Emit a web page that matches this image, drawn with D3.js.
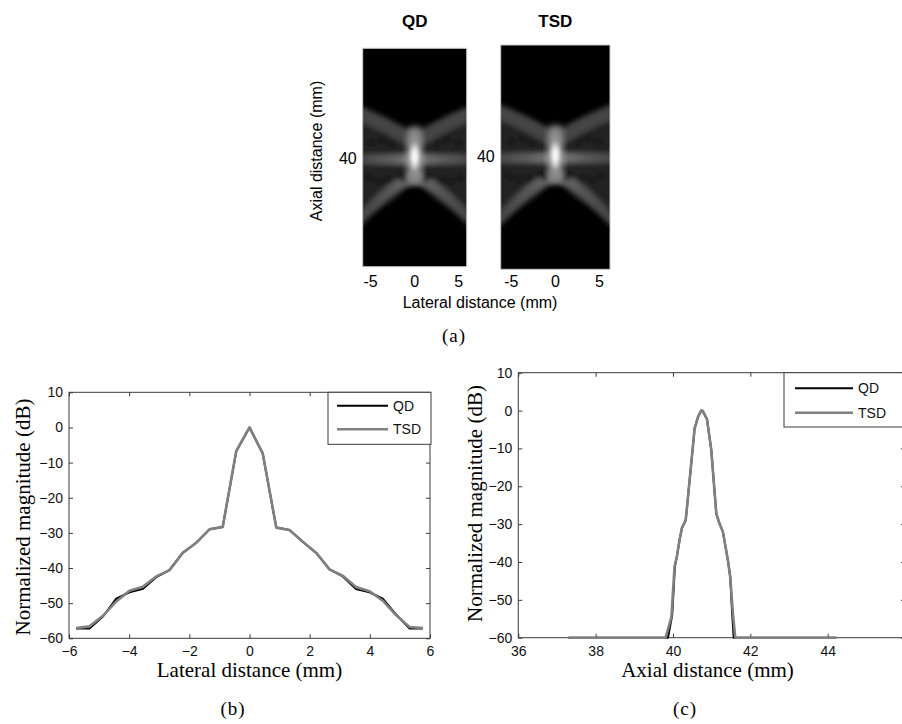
<!DOCTYPE html>
<html>
<head>
<meta charset="utf-8">
<script src="https://cdn.jsdelivr.net/npm/d3@7"></script>
<style>
  html, body { margin: 0; padding: 0; background: #fff; }
  svg { display: block; }
</style>
</head>
<body>
<svg id="fig" width="902" height="724"></svg>
<script>
// ---------------- data ----------------
// (a) point-spread images
const imageTitles = ["QD", "TSD"];
const imageLateralTicks = [-5, 0, 5];
const imageAxialTicks = [40];
const imageLateralExtent = [[-5.9, 5.9], [-6.2, 6.2]];   // mm
const imageAxialExtent = [[28, 52], [27.8, 52.4]];       // mm

// PSF structure (lateral mm, axial mm) and grey levels (0-255)
const psfUpperEnvelope = [[-6.6, 34.2], [-4, 35.3], [-2, 36.3], [-0.9, 36.9], [0, 37.0], [0.9, 36.9], [2, 36.3], [4, 35.3], [6.6, 34.2]];
const psfLowerEnvelope = [[-6.6, 47.8], [-4.5, 45.7], [-3, 44.4], [-1.5, 43.4], [0, 43.0], [1.5, 43.4], [3, 44.4], [4.5, 45.7], [6.6, 47.8]];
const psfSidelobeAxial = 40.2;
const psfColumn = { lateral: [-0.85, 0.85], axial: [36.6, 42.9] };
const psfCore = { lateral: 0, axial: 39.9, rLat: 0.6, rAx: 1.5 };
const psfNulls = [[-4.9, 38.4], [-3.7, 38.1], [-2.6, 38.5], [-5.2, 42.2], [-4.1, 42.6], [-3.0, 42.4], [-1.7, 42.1], [-1.1, 42.4],
                  [4.9, 38.4], [3.7, 38.1], [2.6, 38.5], [5.2, 42.2], [4.1, 42.6], [3.0, 42.4], [1.7, 42.1], [1.1, 42.4]];
const psfGrey = { region: 34, upperArm: 68, lowerArmEdge: 68, lowerArmCentre: 112, bandEdge: 72, bandCentre: 125, column: 145, null: 12 };

// (b) lateral profile
const lateralPos = [-5.76, -5.32, -4.87, -4.43, -3.99, -3.54, -3.10, -2.66, -2.22, -1.77, -1.33, -0.89, -0.44, 0,
                    0.44, 0.89, 1.33, 1.77, 2.22, 2.66, 3.10, 3.54, 3.99, 4.43, 4.87, 5.32, 5.76];
const lateralQD  = [-57.2, -57.2, -53.8, -48.7, -46.9, -45.9, -42.6, -40.6, -35.7, -32.8, -29.0, -28.3, -6.8, 0,
                    -7.4, -28.5, -29.2, -32.5, -35.7, -40.4, -42.4, -46.0, -46.9, -48.7, -53.2, -57.2, -57.2];
const lateralTSD = [-57.1, -56.6, -53.6, -49.5, -46.5, -45.3, -42.4, -40.6, -35.7, -32.8, -29.0, -28.3, -6.7, 0,
                    -7.4, -28.5, -29.2, -32.5, -35.7, -40.4, -42.2, -45.4, -46.6, -49.3, -53.4, -56.8, -57.1];
const lateralTicks = [-6, -4, -2, 0, 2, 4, 6];

// (c) axial profile
const axialPosTSD = [37.3, 39.81, 39.96, 40.04, 40.10, 40.17, 40.23, 40.33, 40.36, 40.56, 40.65, 40.73, 40.77, 40.88,
                     40.99, 41.12, 41.20, 41.29, 41.42, 41.48, 41.55, 41.61, 44.22];
const axialTSD    = [-60, -60, -54.5, -41.2, -38.6, -34.2, -31.1, -28.9, -25.8, -4.7, -1.6, 0, -0.1, -2.3,
                     -10.4, -27.2, -29.8, -32.0, -39.5, -43.9, -53.6, -60, -60];
const axialPosQD  = [37.3, 39.87, 39.98, 40.05, 40.10, 40.17, 40.23, 40.33, 40.36, 40.56, 40.65, 40.73, 40.77, 40.88,
                     40.99, 41.12, 41.20, 41.29, 41.42, 41.48, 41.53, 41.57, 44.22];
const axialQD     = [-60, -60, -54.0, -41.2, -38.6, -34.2, -31.1, -28.9, -25.8, -4.7, -1.6, 0, -0.1, -2.3,
                     -10.4, -27.2, -29.8, -32.0, -39.5, -43.9, -53.6, -60, -60];
const axialTicks = [36, 38, 40, 42, 44];

const magnitudeTicks = [-60, -50, -40, -30, -20, -10, 0, 10];
const legendNames = ["QD", "TSD"];
const seriesColors = ["#000000", "#808080"];
const seriesWidths = [2, 2.6];

// ---------------- drawing ----------------
const svg = d3.select("#fig");
const defs = svg.append("defs");
const SANS = "'Liberation Sans', Arial, Helvetica, sans-serif";
const SERIF = "'Liberation Serif', 'Times New Roman', serif";
const grey = v => `rgb(${v},${v},${v})`;

const addBlur = (id, sd) => defs.append("filter").attr("id", id)
  .attr("x", "-30%").attr("y", "-30%").attr("width", "160%").attr("height", "160%")
  .append("feGaussianBlur").attr("stdDeviation", sd);
addBlur("soft", 2.4);
addBlur("softer", 3.0);
addBlur("core", 1.6);

// ---- (a) images ----
const panelRanges = [
  { x: [362.7, 466.7], y: [48.3, 266.7] },
  { x: [500.7, 610.0], y: [45.0, 269.3] }
];

imageTitles.forEach((title, i) => {
  const xs = d3.scaleLinear().domain(imageLateralExtent[i]).range(panelRanges[i].x);
  const ys = d3.scaleLinear().domain(imageAxialExtent[i]).range(panelRanges[i].y);
  const [x0, x1] = xs.range(), [y0, y1] = ys.range();
  const g = svg.append("g");
  const clipId = "clip-img-" + i;
  defs.append("clipPath").attr("id", clipId)
    .append("rect").attr("x", x0).attr("y", y0).attr("width", x1 - x0).attr("height", y1 - y0);

  // horizontal gradients for arms / band (bright near the centre line)
  const mkGrad = (id, edge, centre) => {
    const lg = defs.append("linearGradient").attr("id", id)
      .attr("gradientUnits", "userSpaceOnUse")
      .attr("x1", x0).attr("x2", x1).attr("y1", 0).attr("y2", 0);
    const cx = (xs(0) - x0) / (x1 - x0);
    lg.append("stop").attr("offset", 0).attr("stop-color", grey(edge));
    lg.append("stop").attr("offset", cx - 0.25).attr("stop-color", grey(Math.round(edge * 0.6 + centre * 0.4)));
    lg.append("stop").attr("offset", cx).attr("stop-color", grey(centre));
    lg.append("stop").attr("offset", cx + 0.25).attr("stop-color", grey(Math.round(edge * 0.6 + centre * 0.4)));
    lg.append("stop").attr("offset", 1).attr("stop-color", grey(edge));
  };
  mkGrad("armGrad" + i, psfGrey.lowerArmEdge, psfGrey.lowerArmCentre);
  mkGrad("bandGrad" + i, psfGrey.bandEdge, psfGrey.bandCentre);

  // column: brighter towards the core
  const cg = defs.append("linearGradient").attr("id", "colGrad" + i).attr("x1", 0).attr("x2", 0).attr("y1", 0).attr("y2", 1);
  cg.append("stop").attr("offset", 0).attr("stop-color", grey(psfGrey.column - 25));
  cg.append("stop").attr("offset", 0.5).attr("stop-color", grey(psfGrey.column + 30));
  cg.append("stop").attr("offset", 1).attr("stop-color", grey(psfGrey.column - 20));

  const rg = defs.append("radialGradient").attr("id", "coreGrad" + i);
  rg.append("stop").attr("offset", 0).attr("stop-color", "#ffffff");
  rg.append("stop").attr("offset", 0.45).attr("stop-color", "#f0f0f0");
  rg.append("stop").attr("offset", 1).attr("stop-color", grey(psfGrey.column + 40)).attr("stop-opacity", 0.6);

  g.append("rect").attr("x", x0).attr("y", y0).attr("width", x1 - x0).attr("height", y1 - y0)
    .attr("fill", "#000");

  const clip = g.append("g").attr("clip-path", `url(#${clipId})`);
  const back = clip.append("g").attr("filter", "url(#soft)");
  const curve = d3.line().x(d => xs(d[0])).y(d => ys(d[1])).curve(d3.curveCatmullRom);
  const mmX = Math.abs(xs(1) - xs(0)), mmY = Math.abs(ys(1) - ys(0));

  // side-lobe region between the two envelopes
  const regionPath = d3.area().x(d => xs(d[0])).y0(d => ys(d[1]))
    .y1((d, k) => ys(psfLowerEnvelope[k][1])).curve(d3.curveCatmullRom);
  back.append("path").attr("d", regionPath(psfUpperEnvelope)).attr("fill", grey(psfGrey.region));

  // upper arms
  back.append("path").attr("d", curve(psfUpperEnvelope.map(d => [d[0], d[1] + 0.85])))
    .attr("fill", "none").attr("stroke", grey(psfGrey.upperArm)).attr("stroke-width", 1.6 * mmY);
  // lower arms
  back.append("path").attr("d", curve(psfLowerEnvelope.map(d => [d[0], d[1] - 0.6])))
    .attr("fill", "none").attr("stroke", `url(#armGrad${i})`).attr("stroke-width", 1.15 * mmY);
  // lateral side-lobe band
  back.append("rect").attr("x", x0 - 5).attr("width", x1 - x0 + 10)
    .attr("y", ys(psfSidelobeAxial - 0.55)).attr("height", 1.1 * mmY)
    .attr("fill", `url(#bandGrad${i})`);
  // nulls in the side-lobe texture
  back.selectAll("rect.null").data(psfNulls).join("rect").attr("class", "null")
    .attr("x", d => xs(d[0]) - 0.3 * mmX).attr("y", d => ys(d[1]) - 0.3 * mmY)
    .attr("width", 0.6 * mmX).attr("height", 0.6 * mmY).attr("fill", grey(psfGrey.null));

  // main lobe column
  clip.append("g").attr("filter", "url(#softer)").append("rect")
    .attr("x", xs(psfColumn.lateral[0])).attr("width", xs(psfColumn.lateral[1]) - xs(psfColumn.lateral[0]))
    .attr("y", ys(psfColumn.axial[0])).attr("height", ys(psfColumn.axial[1]) - ys(psfColumn.axial[0]))
    .attr("rx", 5).attr("fill", `url(#colGrad${i})`);
  // bright core
  clip.append("g").attr("filter", "url(#core)").append("ellipse")
    .attr("cx", xs(psfCore.lateral)).attr("cy", ys(psfCore.axial))
    .attr("rx", psfCore.rLat * mmX).attr("ry", psfCore.rAx * mmY)
    .attr("fill", `url(#coreGrad${i})`);

  g.append("rect").attr("x", x0).attr("y", y0).attr("width", x1 - x0).attr("height", y1 - y0)
    .attr("fill", "none").attr("stroke", "#c8c8c8").attr("stroke-width", 1);

  // title and tick labels
  g.append("text").attr("x", xs(0)).attr("y", 26.7).attr("text-anchor", "middle")
    .attr("font-family", SANS).attr("font-weight", "bold").attr("font-size", 17).text(title);
  g.selectAll("text.xt").data(imageLateralTicks).join("text").attr("class", "xt")
    .attr("x", d => xs(d)).attr("y", 286.5).attr("text-anchor", "middle")
    .attr("font-family", SANS).attr("font-size", 16).text(d => d);
  g.selectAll("text.yt").data(imageAxialTicks).join("text").attr("class", "yt")
    .attr("x", x0 - 6).attr("y", d => ys(d) + 6).attr("text-anchor", "end")
    .attr("font-family", SANS).attr("font-size", 16).text(d => d);
});

svg.append("text").attr("x", 480).attr("y", 307.5).attr("text-anchor", "middle")
  .attr("font-family", SANS).attr("font-size", 16).text("Lateral distance (mm)");
svg.append("text").attr("transform", "translate(321.5,151) rotate(-90)").attr("text-anchor", "middle")
  .attr("font-family", SANS).attr("font-size", 16).text("Axial distance (mm)");
svg.append("text").attr("x", 454).attr("y", 342).attr("text-anchor", "middle")
  .attr("font-family", SERIF).attr("font-size", 19).attr("letter-spacing", 1).text("(a)");

// ---- (b), (c) profiles ----
function drawProfile(cfg) {
  const g = svg.append("g");
  const x = d3.scaleLinear().domain(cfg.xDomain).range([cfg.left, cfg.right]);
  const y = d3.scaleLinear().domain([-60, 10]).range([cfg.bottom, cfg.top]);
  const axisColor = "#3a3a3a";

  const styleAxis = sel => {
    sel.select(".domain").remove();
    sel.selectAll(".tick line").attr("stroke", axisColor);
    sel.selectAll(".tick text").attr("font-family", SANS).attr("font-size", 14).attr("fill", "#111");
  };
  g.append("g").attr("transform", `translate(0,${cfg.bottom})`)
    .call(d3.axisBottom(x).tickValues(cfg.xTicks).tickSize(-4).tickPadding(8).tickFormat(d3.format("d")))
    .call(styleAxis);
  g.append("g").attr("transform", `translate(0,${cfg.top})`)
    .call(d3.axisTop(x).tickValues(cfg.xTicks).tickSize(-4).tickFormat(""))
    .call(styleAxis);
  g.append("g").attr("transform", `translate(${cfg.left},0)`)
    .call(d3.axisLeft(y).tickValues(magnitudeTicks).tickSize(-4).tickPadding(6).tickFormat(d3.format("d")))
    .call(styleAxis);
  g.append("g").attr("transform", `translate(${cfg.right},0)`)
    .call(d3.axisRight(y).tickValues(magnitudeTicks).tickSize(-4).tickFormat(""))
    .call(styleAxis);
  g.append("rect").attr("x", cfg.left).attr("y", cfg.top)
    .attr("width", cfg.right - cfg.left).attr("height", cfg.bottom - cfg.top)
    .attr("fill", "none").attr("stroke", axisColor).attr("stroke-width", 1);

  const line = d3.line().x(d => x(d[0])).y(d => y(d[1]));
  cfg.series.forEach((s, k) => {
    g.append("path").attr("d", line(d3.zip(s.pos, s.val)))
      .attr("fill", "none").attr("stroke", seriesColors[k]).attr("stroke-width", seriesWidths[k])
      .attr("stroke-linejoin", "round");
  });

  // legend
  const L = cfg.legend;
  g.append("rect").attr("x", L.x).attr("y", cfg.top).attr("width", L.w).attr("height", L.h)
    .attr("fill", "#fff").attr("stroke", axisColor).attr("stroke-width", 1);
  legendNames.forEach((name, k) => {
    const ly = L.y0 + k * L.dy;
    g.append("line").attr("x1", L.lx0).attr("x2", L.lx1).attr("y1", ly).attr("y2", ly)
      .attr("stroke", seriesColors[k]).attr("stroke-width", seriesWidths[k]);
    g.append("text").attr("x", L.lx1 + 5).attr("y", ly + 5)
      .attr("font-family", SANS).attr("font-size", 14).attr("fill", "#111").text(name);
  });

  g.append("text").attr("x", cfg.xLabelX).attr("y", 676.5).attr("text-anchor", "middle")
    .attr("font-family", SERIF).attr("font-size", 21).text(cfg.xLabel);
  g.append("text").attr("transform", `translate(${cfg.yLabelX},${cfg.yLabelY}) rotate(-90)`)
    .attr("text-anchor", "middle").attr("font-family", SERIF).attr("font-size", 21)
    .text("Normalized magnitude (dB)");
  g.append("text").attr("x", cfg.capX).attr("y", 715).attr("text-anchor", "middle")
    .attr("font-family", SERIF).attr("font-size", 19).attr("letter-spacing", 1).text(cfg.caption);
}

drawProfile({
  xDomain: [-6, 6], xTicks: lateralTicks,
  left: 69, right: 430, top: 392.3, bottom: 638.3,
  series: [{ pos: lateralPos, val: lateralQD }, { pos: lateralPos, val: lateralTSD }],
  legend: { x: 328, w: 103, h: 52, y0: 405.7, dy: 23.6, lx0: 337, lx1: 388 },
  xLabel: "Lateral distance (mm)", xLabelX: 249.5,
  yLabelX: 30, yLabelY: 517, caption: "(b)", capX: 233
});

drawProfile({
  xDomain: [36, 46], xTicks: axialTicks,
  left: 518.3, right: 905, top: 372.7, bottom: 637.7,
  series: [{ pos: axialPosQD, val: axialQD }, { pos: axialPosTSD, val: axialTSD }],
  legend: { x: 784, w: 125, h: 54.3, y0: 388.3, dy: 24.4, lx0: 795, lx1: 853 },
  xLabel: "Axial distance (mm)", xLabelX: 707.5,
  yLabelX: 482, yLabelY: 503.5, caption: "(c)", capX: 685
});
</script>
</body>
</html>
